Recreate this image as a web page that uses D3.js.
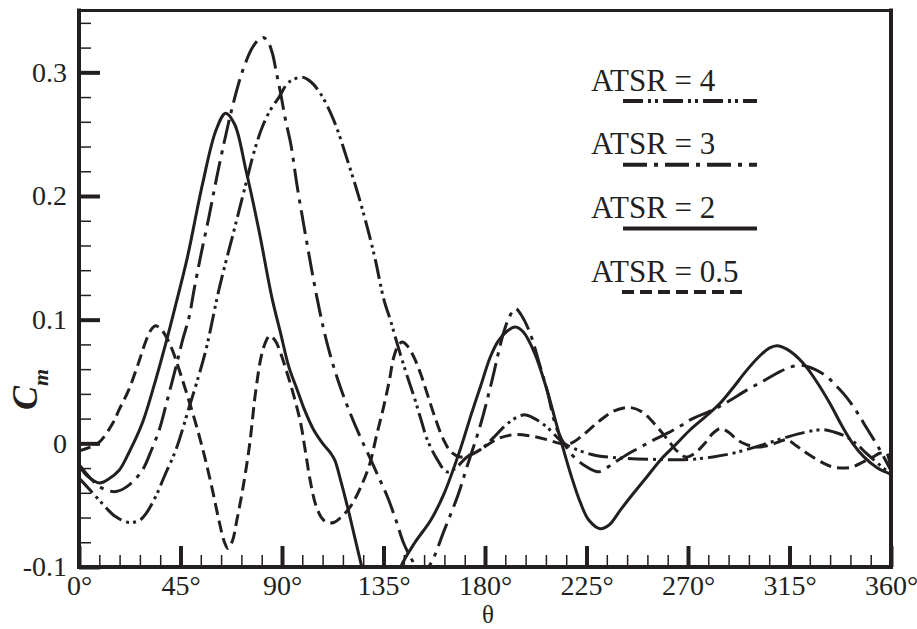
<!DOCTYPE html>
<html>
<head>
<meta charset="utf-8">
<script src="https://cdn.jsdelivr.net/npm/d3@7"></script>
<style>
  body { margin: 0; background: #fff; }
  text { font-family: "Liberation Serif", "Times New Roman", serif; fill: #231f20; }
</style>
</head>
<body>
<script>
// [theta (deg), Cm]
var atsr2 = [[0,-0.018],[4,-0.027],[9,-0.032],[13,-0.029],[17.7,-0.022],[22,-0.008],[28,0.016],[33,0.045],[38.5,0.081],[43,0.113],[48,0.15],[54.8,0.21],[60.7,0.253],[65,0.267],[69,0.258],[74,0.221],[79.8,0.172],[85.5,0.118],[89.4,0.089],[93,0.062],[96.8,0.043],[100,0.027],[104,0.011],[108,0.0],[111.6,-0.008],[113.5,-0.014],[116,-0.03],[119,-0.051],[122,-0.074],[125,-0.097],[129,-0.125],[134,-0.138],[139,-0.122],[142.6,-0.1],[149,-0.08],[156,-0.062],[162,-0.04],[169,-0.005],[174,0.024],[178,0.046],[182.4,0.07],[186,0.083],[190,0.091],[193.5,0.094],[197,0.09],[202,0.073],[207.5,0.043],[211,0.02],[214,0.0],[218,-0.025],[222.3,-0.048],[226,-0.062],[231,-0.069],[235,-0.066],[240,-0.054],[246,-0.04],[251.8,-0.027],[258,-0.013],[264,-0.002],[271,0.011],[278,0.022],[284,0.032],[290,0.045],[296,0.059],[302,0.071],[306,0.077],[309.4,0.079],[314,0.076],[321,0.065],[327,0.05],[333,0.032],[338,0.015],[343,0.0],[348,-0.011],[354,-0.02],[360,-0.025]];

var atsr05 = [[0,-0.006],[5,-0.003],[9,0.001],[14.9,0.016],[18,0.028],[22,0.043],[26,0.063],[29.7,0.083],[32,0.092],[34,0.095],[36.5,0.092],[39,0.085],[41.5,0.075],[45.9,0.051],[49.5,0.03],[53,0.008],[56,-0.013],[59.2,-0.038],[62,-0.062],[64.5,-0.08],[66,-0.085],[68,-0.079],[70,-0.062],[72.5,-0.038],[75.5,-0.003],[78.4,0.043],[81,0.072],[83,0.083],[84.5,0.087],[87,0.083],[89,0.075],[92.4,0.056],[95,0.04],[98.3,0.016],[100.5,-0.008],[102.7,-0.032],[105,-0.05],[107.5,-0.06],[110,-0.064],[113,-0.064],[116,-0.06],[120.4,-0.051],[125,-0.035],[129,-0.016],[132,0.007],[135,0.029],[137.5,0.05],[139.6,0.07],[141.5,0.079],[143.3,0.082],[145.5,0.079],[148.4,0.07],[151.5,0.056],[154.4,0.04],[158,0.02],[161.6,0.003],[165,-0.007],[169,-0.011],[174,-0.009],[178,-0.005],[186,0.004],[193,0.007],[200,0.006],[207.5,0.003],[213,0.0],[218,0.0],[223,0.006],[230,0.017],[237,0.026],[244,0.029],[250,0.025],[256,0.014],[261,0.003],[265,-0.006],[269,-0.011],[273,-0.008],[277,-0.001],[281,0.008],[284.3,0.012],[288,0.009],[291.7,0.003],[296,-0.001],[300.5,-0.003],[305,-0.002],[310,0.001],[313.8,0.003],[318,-0.002],[322.7,-0.008],[330,-0.016],[334,-0.019],[338.9,-0.02],[343,-0.019],[347.7,-0.015],[352,-0.011],[355,-0.008],[358,-0.008],[360,-0.022]];

var atsr3 = [[0,-0.017],[5,-0.028],[10,-0.036],[16.4,-0.039],[22,-0.034],[28,-0.022],[32,-0.006],[35.6,0.011],[39,0.034],[43,0.062],[46,0.084],[48.8,0.102],[51,0.124],[54,0.152],[57.6,0.183],[60.5,0.21],[63.6,0.237],[68,0.272],[72.5,0.301],[76.9,0.32],[80,0.327],[82,0.328],[84,0.324],[85.8,0.315],[87.5,0.3],[89.4,0.283],[91.5,0.262],[93.9,0.242],[96.8,0.207],[99.8,0.175],[102.7,0.145],[105.7,0.116],[108.5,0.092],[111.6,0.07],[115,0.05],[119,0.03],[124,0.008],[129.3,-0.013],[133,-0.028],[136.7,-0.043],[140.5,-0.062],[144,-0.081],[148.5,-0.097],[152,-0.106],[156,-0.097],[162,-0.07],[168,-0.042],[172,-0.019],[178,0.015],[183,0.05],[188,0.088],[191,0.103],[193.5,0.109],[196,0.104],[200,0.089],[204,0.065],[207.5,0.043],[212,0.011],[218,-0.008],[225,-0.019],[230.4,-0.023],[237,-0.016],[243,-0.009],[249,-0.003],[255,0.003],[260.7,0.008],[266.6,0.014],[271,0.019],[281,0.027],[288,0.034],[296,0.043],[303,0.05],[310.8,0.058],[316,0.062],[321,0.063],[326,0.06],[331.5,0.054],[336,0.046],[340.4,0.037],[345,0.025],[349,0.013],[355,-0.005],[360,-0.022]];

var atsr4 = [[0,-0.028],[5,-0.038],[10.5,-0.049],[16,-0.059],[22.3,-0.064],[27,-0.062],[30,-0.056],[34,-0.043],[38,-0.026],[43,-0.005],[48.8,0.029],[52,0.048],[56.2,0.075],[62,0.124],[65,0.146],[68,0.167],[74,0.21],[77.5,0.235],[81.3,0.256],[85,0.27],[88.7,0.28],[93,0.292],[99,0.296],[103,0.292],[107,0.283],[113,0.261],[119,0.229],[124.9,0.194],[130.8,0.153],[135.2,0.116],[138,0.1],[141,0.081],[144.5,0.06],[148.5,0.038],[151.5,0.02],[154.4,0.003],[158.8,-0.013],[163,-0.023],[167,-0.02],[172,-0.011],[178,-0.005],[184,0.005],[190,0.016],[197,0.023],[202,0.02],[207.5,0.013],[215,0.0],[222,-0.006],[229.7,-0.01],[241.5,-0.012],[256,-0.013],[271,-0.013],[281,-0.011],[290,-0.008],[296,-0.005],[303.4,-0.001],[313.8,0.005],[322,0.009],[330,0.011],[335,0.009],[340.4,0.005],[345,-0.001],[349,-0.008],[354,-0.016],[360,-0.025]];

var xTicks = [0, 45, 90, 135, 180, 225, 270, 315, 360];
var yTicks = [-0.1, 0, 0.1, 0.2, 0.3];
var legendLabels = ["ATSR = 4", "ATSR = 3", "ATSR = 2", "ATSR = 0.5"];

(function cmChart(){
  var ink = "#231f20";
  var svg = d3.select("body").append("svg")
    .attr("width", 917)
    .attr("height", 629);

  var x = d3.scaleLinear().domain([0, 360]).range([79, 891]);
  var y = d3.scaleLinear().domain([-0.1, 0.35]).range([567, 10.5]);

  var series = [
    {label: legendLabels[0], values: atsr4, dash: "20,5,3,4,3,5"},
    {label: legendLabels[1], values: atsr3, dash: "24,7,4,7"},
    {label: legendLabels[2], values: atsr2, dash: null},
    {label: legendLabels[3], values: atsr05, dash: "12,6"}
  ];

  svg.append("clipPath").attr("id", "plotclip")
    .append("rect")
    .attr("x", x(0)).attr("y", y(0.35))
    .attr("width", x(360) - x(0)).attr("height", y(-0.1) - y(0.35));

  // minor ticks, pointing inside
  var xMinor = d3.range(0, 361, 9).filter(function(d){ return d % 45 !== 0; });
  var yMinor = d3.range(-10, 36, 2).filter(function(d){ return d % 10 !== 0; })
    .map(function(d){ return d / 100; });

  var gxm = svg.append("g").attr("transform", "translate(0," + y(-0.1) + ")")
    .call(d3.axisBottom(x).tickValues(xMinor).tickSize(-12).tickFormat(""));
  var gym = svg.append("g").attr("transform", "translate(" + x(0) + ",0)")
    .call(d3.axisLeft(y).tickValues(yMinor).tickSize(-12).tickFormat(""));
  [gxm, gym].forEach(function(g){
    g.select(".domain").remove();
    g.selectAll("line").attr("stroke", ink).attr("stroke-width", 1.5);
  });

  var gx = svg.append("g").attr("transform", "translate(0," + y(-0.1) + ")")
    .call(d3.axisBottom(x).tickValues(xTicks).tickSize(-21).tickPadding(8)
      .tickFormat(function(d){ return d + "\u00b0"; }));
  var gy = svg.append("g").attr("transform", "translate(" + x(0) + ",0)")
    .call(d3.axisLeft(y).tickValues(yTicks).tickSize(-21).tickPadding(12)
      .tickFormat(function(d){ return d === 0 ? "0" : d.toFixed(1); }));
  [gx, gy].forEach(function(g){
    g.select(".domain").remove();
    g.attr("font-size", 28).attr("font-family", "Liberation Serif, serif").attr("color", ink);
    g.selectAll("line").attr("stroke-width", 4);
  });

  // frame
  var frame = [
    {x1: x(0), y1: y(-0.1), x2: x(0), y2: y(0.35), w: 4},
    {x1: x(0), y1: y(-0.1), x2: x(360), y2: y(-0.1), w: 4},
    {x1: x(0), y1: y(0.35), x2: x(360), y2: y(0.35), w: 3},
    {x1: x(360), y1: y(-0.1), x2: x(360), y2: y(0.35), w: 4}
  ];
  svg.selectAll(".frame").data(frame).enter().append("line")
    .attr("class", "frame")
    .attr("x1", function(d){ return d.x1; }).attr("y1", function(d){ return d.y1; })
    .attr("x2", function(d){ return d.x2; }).attr("y2", function(d){ return d.y2; })
    .attr("stroke", ink).attr("stroke-width", function(d){ return d.w; })
    .attr("stroke-linecap", "square");

  var line = d3.line()
    .x(function(d){ return x(d[0]); })
    .y(function(d){ return y(d[1]); })
    .curve(d3.curveCatmullRom.alpha(0.5));

  svg.append("g").attr("clip-path", "url(#plotclip)")
    .selectAll("path").data(series).enter().append("path")
    .attr("d", function(d){ return line(d.values); })
    .attr("fill", "none")
    .attr("stroke", ink)
    .attr("stroke-width", 3)
    .attr("stroke-dasharray", function(d){ return d.dash; });

  // legend
  var lg = svg.append("g").selectAll("g").data(series).enter().append("g")
    .attr("transform", function(d, i){ return "translate(591," + (90.5 + i * 63.7) + ")"; });
  lg.append("text")
    .attr("font-size", 31)
    .text(function(d){ return d.label; });
  lg.append("line")
    .attr("x1", function(d, i){ return i === 3 ? 31 : 32; })
    .attr("x2", function(d, i){ return i === 3 ? 154 : 166; })
    .attr("y1", 10.5).attr("y2", 10.5)
    .attr("stroke", ink).attr("stroke-width", 4)
    .attr("stroke-dasharray", function(d){ return d.dash; });

  // axis titles
  svg.append("text")
    .attr("x", (x(0) + x(360)) / 2 + 3).attr("y", 623)
    .attr("text-anchor", "middle")
    .attr("font-size", 25)
    .text("\u03b8");

  var cm = svg.append("text")
    .attr("transform", "translate(37,410) rotate(-90)")
    .attr("font-weight", "bold").attr("font-style", "italic");
  cm.append("tspan").attr("font-size", 36).text("C");
  cm.append("tspan").attr("font-size", 22).attr("dy", 11).text("m");
})();
</script>
</body>
</html>
